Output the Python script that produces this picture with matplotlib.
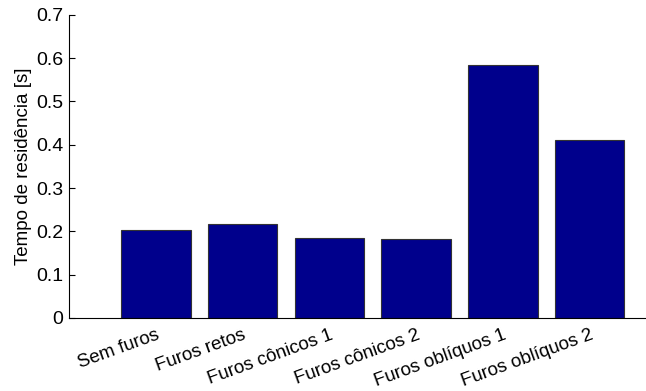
import matplotlib.pyplot as plt
import numpy as np

plt.rcParams['font.family'] = ['Liberation Sans', 'DejaVu Sans']

# Tempo de residência para cada configuração de furos
configuracoes = ['Sem furos', 'Furos retos', 'Furos cônicos 1',
                 'Furos cônicos 2', 'Furos oblíquos 1', 'Furos oblíquos 2']
tempo_residencia = [0.203, 0.218, 0.185, 0.183, 0.584, 0.411]

posicoes = np.arange(1, len(configuracoes) + 1)

fig = plt.figure(figsize=(6.46, 3.91), dpi=100)
ax = fig.add_axes([0.107, 0.187, 0.893, 0.775])

ax.bar(posicoes, tempo_residencia, width=0.8, color='#00008C',
       edgecolor='#333333', linewidth=0.8)

ax.set_xlim(0, 6.65)
ax.set_ylim(0, 0.7)
ax.set_yticks(np.arange(0, 0.71, 0.1))
ax.set_yticklabels(['0'] + ['%.1f' % v for v in np.arange(0.1, 0.71, 0.1)])
ax.set_xticks(posicoes)
ax.set_xticklabels(configuracoes, rotation=20, ha='right',
                   rotation_mode='anchor')

ax.spines['top'].set_visible(False)
ax.spines['right'].set_visible(False)
ax.tick_params(axis='y', direction='in', length=4, labelsize=14, pad=4)
ax.tick_params(axis='x', length=0, labelsize=13.5, pad=6)

ax.set_ylabel('Tempo de residência [s]', fontsize=13.5, labelpad=3)

fig.savefig('out.png', dpi=100)
